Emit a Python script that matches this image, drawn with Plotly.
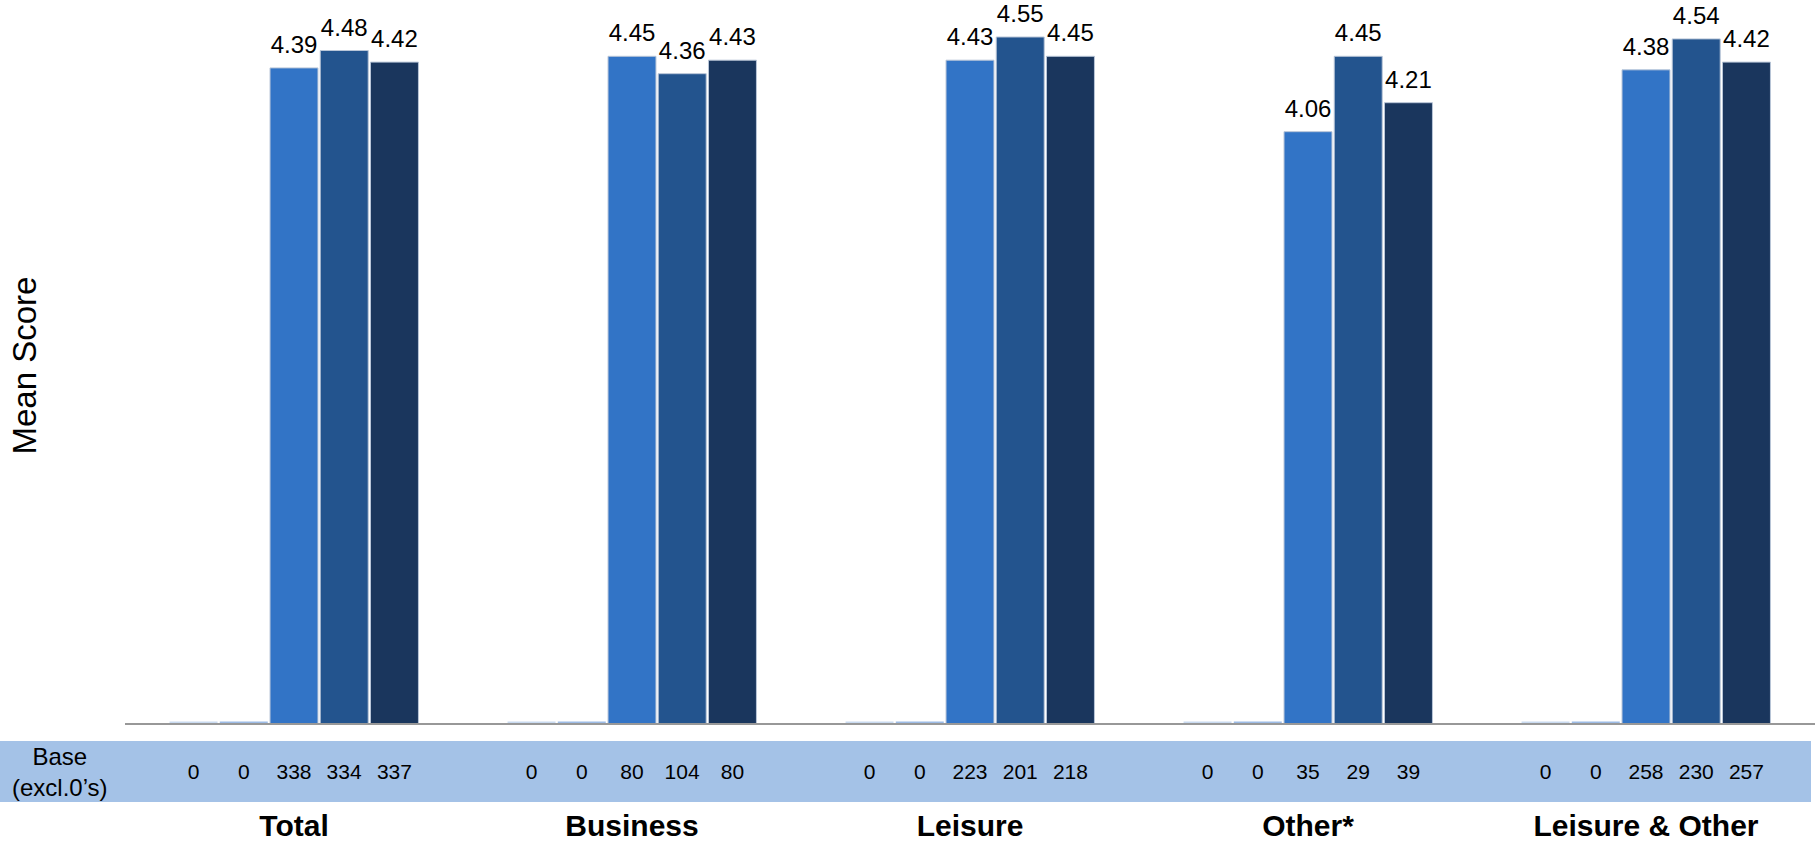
import plotly.graph_objects as go

# ---- data -------------------------------------------------------------
CATEGORIES = ["Total", "Business", "Leisure", "Other*", "Leisure & Other"]

MEAN_S1 = [0, 0, 0, 0, 0]
MEAN_S2 = [0, 0, 0, 0, 0]
MEAN_S3 = [4.39, 4.45, 4.43, 4.06, 4.38]
MEAN_S4 = [4.48, 4.36, 4.55, 4.45, 4.54]
MEAN_S5 = [4.42, 4.43, 4.45, 4.21, 4.42]

BASE_S1 = [0, 0, 0, 0, 0]
BASE_S2 = [0, 0, 0, 0, 0]
BASE_S3 = [338, 80, 223, 35, 258]
BASE_S4 = [334, 104, 201, 29, 230]
BASE_S5 = [337, 80, 218, 39, 257]

SERIES = [
    ("S1", MEAN_S1, BASE_S1, "#C9DAF0"),
    ("S2", MEAN_S2, BASE_S2, "#9DBCE6"),
    ("S3", MEAN_S3, BASE_S3, "#3274C6"),
    ("S4", MEAN_S4, BASE_S4, "#23548E"),
    ("S5", MEAN_S5, BASE_S5, "#1A365D"),
]

# ---- layout constants ---------------------------------------------------
W, H = 1818, 842
ML, MR, MT, MB = 125, 3, 8, 40
PLOT_W = W - ML - MR
PLOT_H = H - MT - MB
MAIN_BOTTOM_PX = 723      # y pixel of the value axis minimum
BAND_TOP_PX, BAND_BOTTOM_PX = 741, 802
Y_MIN, Y_MAX = 1, 4.7
BAR_GAP = 0.257
FONT = "Arial, Liberation Sans, Helvetica, sans-serif"


def py(px):
    """pixel row -> paper fraction"""
    return (H - MB - px) / PLOT_H


def px_x(px):
    """pixel column -> paper fraction"""
    return (px - ML) / PLOT_W


fig = go.Figure()

# main mean-score bars
for i, (name, vals, _, color) in enumerate(SERIES):
    all_zero = all(v == 0 for v in vals)
    fig.add_trace(go.Bar(
        name=name,
        x=CATEGORIES,
        y=vals,
        base=Y_MIN if all_zero else None,
        offsetgroup=str(i),
        xaxis="x", yaxis="y",
        marker=dict(color=color,
                    line=dict(color=color if all_zero else "#B9C6D8",
                              width=3 if all_zero else 1)),
        showlegend=False,
        hoverinfo="skip",
    ))

# value labels, grouped the same way as the bars; the hidden marker keeps
# the text a little clear of the bar top
for i, (name, vals, _, _) in enumerate(SERIES):
    all_zero = all(v == 0 for v in vals)
    fig.add_trace(go.Scatter(
        name=name + " label",
        x=CATEGORIES,
        y=vals,
        offsetgroup=str(i),
        xaxis="x", yaxis="y",
        mode="markers+text",
        marker=dict(size=12.8, color="rgba(0,0,0,0)"),
        text=["" if all_zero else f"{v:.2f}" for v in vals],
        textposition="top center",
        textfont=dict(family=FONT, size=24, color="#000000"),
        cliponaxis=False,
        showlegend=False,
        hoverinfo="skip",
    ))

# base counts row (transparent bars carrying the counts as centred text)
for i, (name, _, counts, _) in enumerate(SERIES):
    fig.add_trace(go.Bar(
        name=name + " base",
        x=CATEGORIES,
        y=[1] * len(CATEGORIES),
        offsetgroup=str(i),
        xaxis="x2", yaxis="y2",
        marker=dict(color="rgba(0,0,0,0)", line=dict(width=0)),
        text=[str(c) for c in counts],
        textposition="inside",
        insidetextanchor="middle",
        textangle=0,
        constraintext="none",
        textfont=dict(family=FONT, size=21, color="#000000"),
        showlegend=False,
        hoverinfo="skip",
    ))

fig.update_layout(
    template="none",
    width=W, height=H,
    margin=dict(l=ML, r=MR, t=MT, b=MB, pad=0),
    paper_bgcolor="white",
    plot_bgcolor="white",
    barmode="group",
    bargap=BAR_GAP,
    bargroupgap=0.045,
    scattermode="group",
    scattergap=BAR_GAP,
    font=dict(family=FONT, color="#000000"),
    xaxis=dict(
        domain=[0, 1], anchor="y", automargin=False,
        showticklabels=False, ticks="",
        showline=True, linecolor="#989898", linewidth=2,
        showgrid=False, zeroline=False,
    ),
    yaxis=dict(
        domain=[py(MAIN_BOTTOM_PX), 1], anchor="x", automargin=False,
        range=[Y_MIN, Y_MAX],
        showticklabels=False, ticks="", showline=False,
        showgrid=False, zeroline=False,
    ),
    xaxis2=dict(
        domain=[0, 1], anchor="y2", matches="x", automargin=False,
        showticklabels=True, ticks="", showline=False,
        showgrid=False, zeroline=False,
        tickfont=dict(family=FONT, size=30, color="#000000", weight="bold"),
        ticklabelstandoff=3,
    ),
    yaxis2=dict(
        domain=[py(BAND_BOTTOM_PX), py(BAND_TOP_PX)], anchor="x2",
        automargin=False, range=[0, 1],
        showticklabels=False, ticks="", showline=False,
        showgrid=False, zeroline=False,
    ),
    shapes=[dict(
        type="rect", xref="paper", yref="y2 domain",
        x0=px_x(0), x1=px_x(1811), y0=0, y1=1,
        fillcolor="#A4C2E7", line=dict(width=0), layer="below",
    )],
    annotations=[
        dict(text="Mean Score", textangle=-90,
             xref="paper", yref="y domain", x=px_x(24), y=0.5,
             xanchor="center", yanchor="middle", showarrow=False,
             font=dict(family=FONT, size=33, color="#000000")),
        dict(text="Base<br>(excl.0’s)",
             xref="paper", yref="y2 domain", x=px_x(60), y=0.5,
             xanchor="center", yanchor="middle", align="center",
             showarrow=False,
             font=dict(family=FONT, size=24, color="#000000")),
    ],
)

fig.write_html("out.html")
